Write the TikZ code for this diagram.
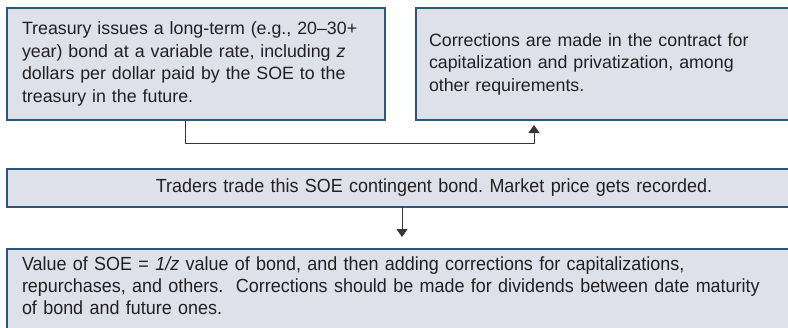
\documentclass[tikz,border=0pt]{standalone}
\usepackage{fontspec}
\setmainfont{Liberation Sans}
\newfontfamily\narrowsans[FakeStretch=0.945]{Liberation Sans}
\usetikzlibrary{arrows.meta,positioning}
\definecolor{boxfill}{HTML}{DFE1EA}
\definecolor{boxline}{HTML}{2C5877}
\definecolor{inkgray}{HTML}{231F20}

\begin{document}
\begin{tikzpicture}[x=1pt,y=-1pt]
        \tikzset{stepbox/.style={draw=boxline,fill=boxfill,line width=1.2pt,text=inkgray,
                 align=left,inner ysep=0pt,outer sep=0pt,font=\fontsize{17.8}{22.5}\selectfont}}
        \tikzset{fleche/.style={-{Triangle[width=11pt,length=8pt]},draw=inkgray!90,line width=1pt}}
        \useasboundingbox (0,0) rectangle (788,327);
        \clip (0,0) rectangle (788,327);
        \node[stepbox,inner xsep=15pt,text width=348pt,minimum height=112pt] (TB) at (196,64)
             {Treasury issues a long-term (e.g., 20--30+\\ year) bond at a variable rate, including \textit{z}\\ dollars per dollar paid by the SOE to the\\ treasury in the future.};
        \node[stepbox,inner xsep=13pt,text width=458pt,minimum height=112pt] (CC) at (658,64)
             {Corrections are made in the contract for\\ capitalization and privatization, among\\ other requirements.};
        \node[stepbox,align=center,text width=854pt,inner xsep=0pt,minimum height=38pt,
              font=\narrowsans\fontsize{19}{22}\selectfont] (TR) at (434,188)
             {Traders trade this SOE contingent bond.\ Market price gets recorded.};
        \node[stepbox,anchor=north,inner xsep=15pt,text width=864pt,inner ysep=8pt,
              font=\narrowsans\fontsize{19}{22}\selectfont] (VS) at (454,249)
             {Value of SOE = \textit{1/z} value of bond, and then adding corrections for capitalizations,\\ repurchases, and others.\ \ Corrections should be made for dividends between date maturity\\ of bond and future ones.\\ \strut};
        \draw[fleche] ([xshift=-11pt]TB.south) -- ++(0,23) -| ([xshift=118pt,yshift=-5pt]CC.south west);
        \draw[fleche] ([xshift=-32pt]TR.south) -- ([xshift=-52pt,yshift=12pt]VS.north);
\end{tikzpicture}
\end{document}
